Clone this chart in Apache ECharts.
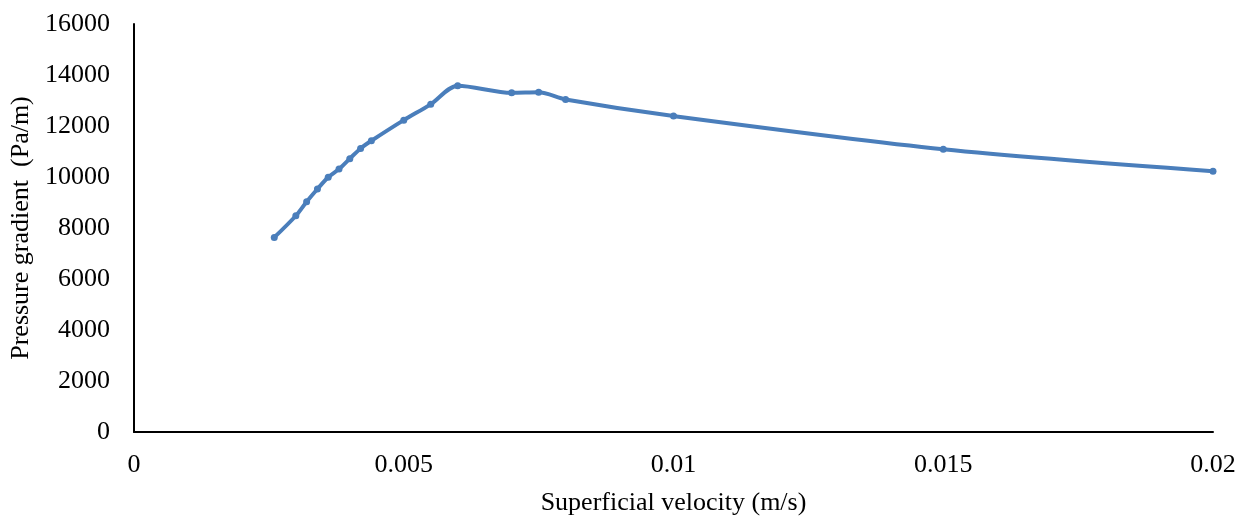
<!DOCTYPE html>
<html>
<head>
<meta charset="utf-8">
<script src="https://cdn.jsdelivr.net/npm/echarts@6/dist/echarts.min.js"></script>
<style>
  html, body { margin: 0; padding: 0; background: #fff; }
  #chart { width: 1246px; height: 517px; }
</style>
</head>
<body>
<div id="chart"></div>
<script>
// superficial velocity (m/s) and pressure gradient (Pa/m)
var velocity = [0.0026, 0.003, 0.0032, 0.0034, 0.0036, 0.0038, 0.004, 0.0042, 0.0044, 0.005, 0.0055, 0.006, 0.007, 0.0075, 0.008, 0.01, 0.015, 0.02];
var gradient = [7630, 8480, 9030, 9530, 9990, 10310, 10720, 11120, 11420, 12230, 12850, 13580, 13300, 13320, 13040, 12390, 11090, 10230];

var points = velocity.map(function (v, i) { return [v, gradient[i]]; });

var font = 'Liberation Serif';
var chart = echarts.init(document.getElementById('chart'));
chart.setOption({
  animation: false,
  grid: { left: 134, right: 33, top: 24, bottom: 85, outerBoundsMode: 'none', containLabel: false },
  xAxis: {
    type: 'value',
    min: 0,
    max: 0.02,
    interval: 0.005,
    name: 'Superficial velocity (m/s)',
    nameLocation: 'middle',
    nameGap: 58,
    nameTextStyle: { fontFamily: font, fontSize: 26, color: '#000' },
    axisLine: { show: true, lineStyle: { color: '#000', width: 2 } },
    axisTick: { show: false },
    splitLine: { show: false },
    axisLabel: { fontFamily: font, fontSize: 26, color: '#000', margin: 20,
      formatter: function (v) { return String(v); } }
  },
  yAxis: {
    type: 'value',
    min: 0,
    max: 16000,
    interval: 2000,
    name: 'Pressure gradient  (Pa/m)',
    nameLocation: 'middle',
    nameGap: 99,
    nameTextStyle: { fontFamily: font, fontSize: 26, color: '#000' },
    axisLine: { show: true, lineStyle: { color: '#000', width: 2 } },
    axisTick: { show: false },
    splitLine: { show: false },
    axisLabel: { fontFamily: font, fontSize: 26, color: '#000', margin: 24,
      formatter: function (v) { return String(v); } }
  },
  series: [{
    type: 'line',
    data: points,
    smooth: 0.3,
    symbol: 'circle',
    symbolSize: 7,
    lineStyle: { color: '#4a7ebb', width: 4 },
    itemStyle: { color: '#4a7ebb' }
  }]
});
</script>
</body>
</html>
